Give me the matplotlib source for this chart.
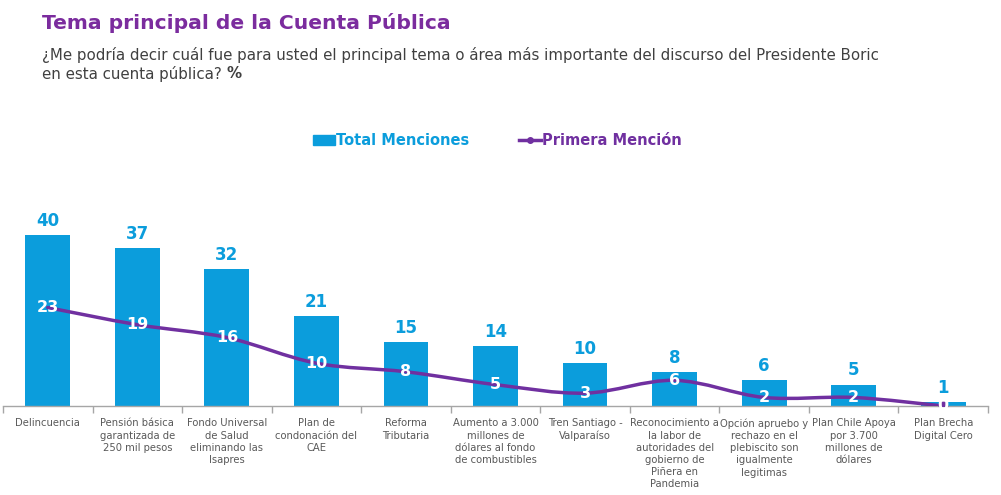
import matplotlib.pyplot as plt
import numpy as np
from matplotlib.path import Path
from matplotlib.patches import PathPatch, Patch
from matplotlib.lines import Line2D

# --- data ---
categorias = [
    "Delincuencia",
    "Pensión básica\ngarantizada de\n250 mil pesos",
    "Fondo Universal\nde Salud\neliminando las\nIsapres",
    "Plan de\ncondonación del\nCAE",
    "Reforma\nTributaria",
    "Aumento a 3.000\nmillones de\ndólares al fondo\nde combustibles",
    "Tren Santiago -\nValparaíso",
    "Reconocimiento a\nla labor de\nautoridades del\ngobierno de\nPiñera en\nPandemia",
    "Opción apruebo y\nrechazo en el\nplebiscito son\nigualmente\nlegitimas",
    "Plan Chile Apoya\npor 3.700\nmillones de\ndólares",
    "Plan Brecha\nDigital Cero",
]
total_menciones = [40, 37, 32, 21, 15, 14, 10, 8, 6, 5, 1]
primera_mencion = [23, 19, 16, 10, 8, 5, 3, 6, 2, 2, 0]

BLUE = "#0B9DDC"
PURPLE = "#7030A0"
TITLE = "#7B2C9E"
GRAY = "#595959"

plt.rcParams['font.family'] = ['DejaVu Sans']

fig = plt.figure(figsize=(10.01, 4.95), dpi=100)
ax = fig.add_axes([0.003, 0.1798, 0.984, 0.4323])

x = np.arange(len(categorias))
ax.bar(x, total_menciones, width=0.5, color=BLUE, zorder=2)

# smooth line (Catmull-Rom as cubic bezier through the data points)
pts = np.column_stack([x, primera_mencion]).astype(float)
verts = [pts[0]]
codes = [Path.MOVETO]
for i in range(len(pts) - 1):
    p0 = pts[i - 1] if i > 0 else pts[i]
    p1, p2 = pts[i], pts[i + 1]
    p3 = pts[i + 2] if i + 2 < len(pts) else pts[i + 1]
    c1 = p1 + (p2 - p0) / 6.0
    c2 = p2 - (p3 - p1) / 6.0
    verts += [c1, c2, p2]
    codes += [Path.CURVE4] * 3
ax.add_patch(PathPatch(Path(verts, codes), facecolor="none", edgecolor=PURPLE,
                       lw=2.5, zorder=3, capstyle="round"))
ax.plot(x[-1:], primera_mencion[-1:], "o", color=PURPLE, ms=6, zorder=4)

for xi, v in zip(x, total_menciones):
    ax.text(xi, v + 1.2, str(v), ha="center", va="bottom", color=BLUE,
            fontsize=12, fontweight="bold", zorder=5)
for xi, v in zip(x, primera_mencion):
    ax.text(xi, v, str(v), ha="center", va="center", color="white",
            fontsize=11.5, fontweight="bold", zorder=5)

ax.set_xlim(-0.5, len(categorias) - 0.5)
ax.set_ylim(0, 50)
ax.set_yticks([])
for s in ["top", "right", "left"]:
    ax.spines[s].set_visible(False)
ax.spines["bottom"].set_color("#A6A6A6")
ax.spines["bottom"].set_linewidth(1)

ax.set_xticks(np.arange(-0.5, len(categorias), 1.0))
ax.set_xticklabels([])
ax.tick_params(axis="x", length=5, color="#A6A6A6", width=1)
ax.set_xticks(x, minor=True)
ax.set_xticklabels(categorias, minor=True, fontsize=7.2, color=GRAY,
                   linespacing=1.27, va="top")
ax.tick_params(axis="x", which="minor", length=0, pad=9)

fig.text(0.042, 0.953, "Tema principal de la Cuenta Pública", color=TITLE,
         fontsize=14.6, fontweight="bold", va="center")
fig.text(0.042, 0.888, "¿Me podría decir cuál fue para usted el principal tema o área más importante del discurso del Presidente Boric",
         color="#404040", fontsize=10.85, va="center")
t2 = fig.text(0.042, 0.851, "en esta cuenta pública? ", color="#404040", fontsize=10.85, va="center")
fig.canvas.draw()
bb = t2.get_window_extent()
fig.text(bb.x1 / fig.bbox.width, 0.851, "%", color="#404040", fontsize=10.85,
         va="center", fontweight="bold")

handles = [Patch(color=BLUE),
           Line2D([0], [0], color=PURPLE, lw=2.5, marker="o", ms=4)]
leg = fig.legend(handles, ["Total Menciones", "Primera Mención"], ncol=2,
                 loc="center", bbox_to_anchor=(0.497, 0.716), frameon=False,
                 handlelength=1.5, handleheight=0.6, handletextpad=0.1,
                 columnspacing=3.4, prop={"weight": "bold", "size": 10.5})
for t, c in zip(leg.get_texts(), [BLUE, PURPLE]):
    t.set_color(c)

fig.savefig("out.png", dpi=100)
